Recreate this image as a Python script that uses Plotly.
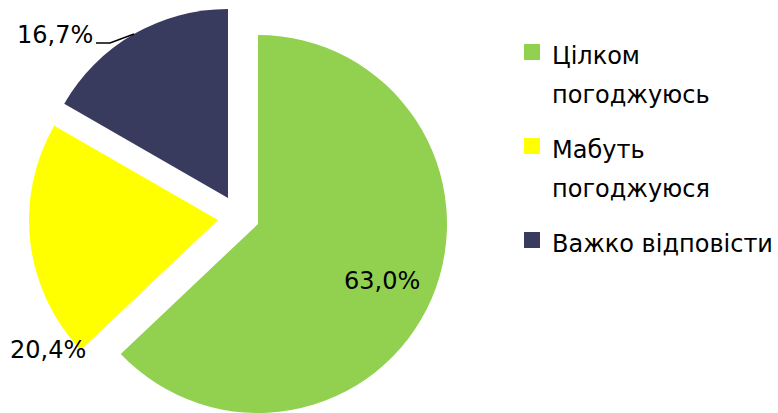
import plotly.graph_objects as go

# ---- data ----
labels = ["Цілком погоджуюсь", "Мабуть погоджуюся", "Важко відповісти"]
legend_lines = [["Цілком", "погоджуюсь"], ["Мабуть", "погоджуюся"], ["Важко відповісти"]]
values = [63.0, 20.4, 16.7]

# ---- style / layout ----
colors = ["#92D050", "#FFFF00", "#383A5E"]
FONT = "DejaVu Sans"
W, H = 778, 413
R = 189
centers = [(258, 224), (218, 220), (228, 198)]   # exploded slice centres (px)
label_pos = [(382, 281), (48, 350), (55, 35)]      # data label centres (px)


def fmt(v):
    return f"{v:.1f}".replace(".", ",") + "%"


fig = go.Figure()

for i, (cx, cy) in enumerate(centers):
    cols = [c if j == i else "rgba(0,0,0,0)" for j, c in enumerate(colors)]
    fig.add_trace(go.Pie(
        labels=labels, values=values, sort=False, direction="clockwise", rotation=0,
        marker=dict(colors=cols, line=dict(width=0)),
        domain=dict(x=[(cx - R) / W, (cx + R) / W], y=[(H - cy - R) / H, (H - cy + R) / H]),
        textinfo="none", showlegend=False, hoverinfo="skip",
    ))

# legend entries
for i, lines in enumerate(legend_lines):
    name = "<br>".join(f'<span style="font-size:24px">{t}</span>' for t in lines)
    fig.add_trace(go.Scatter(
        x=[None], y=[None], mode="markers", name=name, legendgroup=str(i),
        marker=dict(symbol="square", size=16, color=colors[i]), hoverinfo="skip",
    ))

# data labels
for v, (lx, ly) in zip(values, label_pos):
    fig.add_annotation(x=lx / W, y=1 - ly / H, xref="paper", yref="paper", text=fmt(v),
                       xanchor="center", yanchor="middle", showarrow=False,
                       font=dict(family=FONT, size=24, color="black"))
pts = [(96, 43), (110, 43), (134, 34)]
path = "M " + " L ".join(f"{x / W:.5f},{1 - y / H:.5f}" for x, y in pts)
fig.add_shape(type="path", path=path, xref="paper", yref="paper",
              line=dict(color="black", width=1.5))

fig.update_layout(
    width=W, height=H,
    margin=dict(l=0, r=0, t=0, b=0, autoexpand=False),
    paper_bgcolor="white", plot_bgcolor="white",
    separators=", ",
    xaxis=dict(visible=False), yaxis=dict(visible=False),
    font=dict(family=FONT, color="black"),
    legend=dict(x=1, xanchor="right", y=0.937, yanchor="top", valign="top",
                font=dict(family=FONT, size=30, color="black"),
                tracegroupgap=13, bgcolor="rgba(0,0,0,0)"),
)

fig.write_html("out.html", config={"displayModeBar": False},
               post_script="document.body.style.margin='0';document.body.style.padding='0';")
